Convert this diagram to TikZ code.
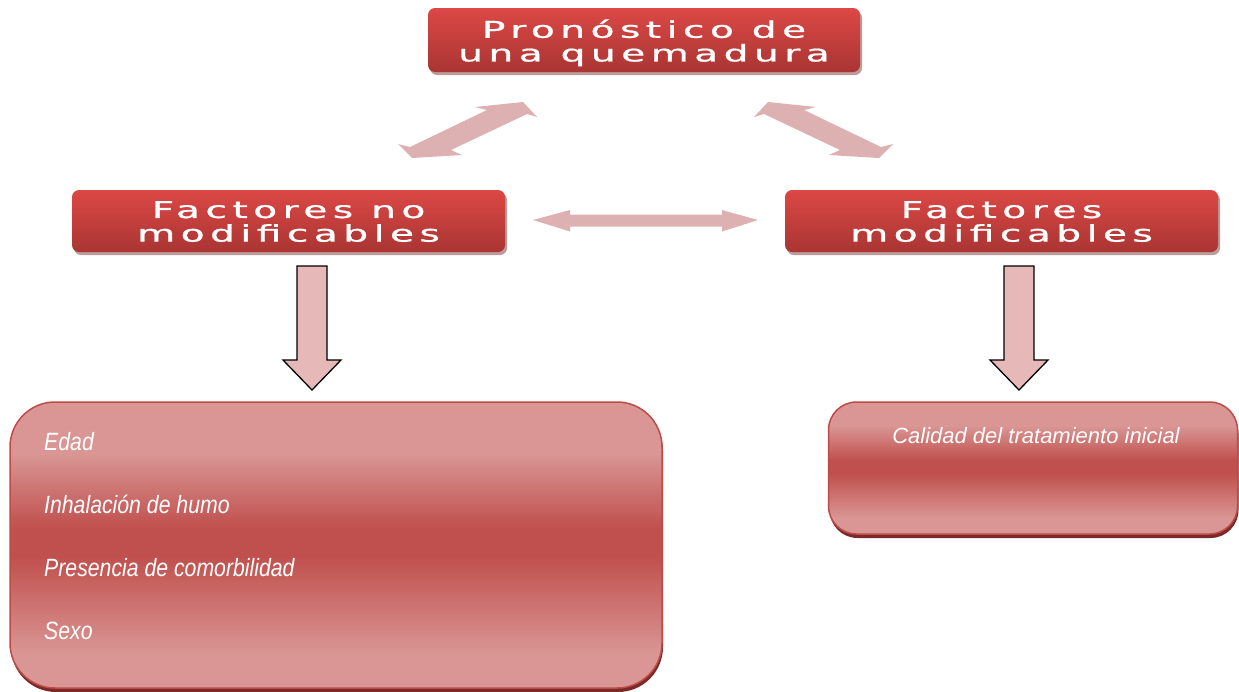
\documentclass[tikz,border=0pt]{standalone}
\usepackage{fontspec}
\setmainfont{Liberation Sans}
\newfontfamily\headfont[LetterSpace=14,FakeBold=0.8]{DejaVu Sans}
\newfontfamily\narrowfont[FakeStretch=0.85]{Liberation Sans}
\usetikzlibrary{calc,shadows}
\definecolor{headtop}{HTML}{DC4845}
\definecolor{headbot}{HTML}{A93533}
\definecolor{headshadow}{HTML}{6E2220}
\definecolor{arrowpink}{HTML}{DDB1B1}
\definecolor{downpink}{HTML}{E6B9B8}
\definecolor{boxlight}{HTML}{D99694}
\definecolor{boxdark}{HTML}{C0504D}
\definecolor{boxborder}{HTML}{BE4B48}
\definecolor{boxshadow}{HTML}{7B2A28}
\pgfdeclareverticalshading{boxshade}{100bp}{color(0bp)=(boxlight); color(31bp)=(boxlight); color(48bp)=(boxdark); color(53bp)=(boxdark); color(66bp)=(boxlight); color(100bp)=(boxlight)}
\newcommand{\headtxt}[2]{\raisebox{-4pt}[\height][\depth]{\scalebox{1.7}[1]{\begin{tabular}{@{}c@{}}#1\\[-1pt]#2\end{tabular}}}}
\tikzset{
  headbox/.style={rounded corners=7pt, top color=headtop, bottom color=headbot,
    text=white, align=center, inner sep=0pt,
    font=\headfont\fontsize{23}{24}\selectfont,
    drop shadow={shadow xshift=2pt, shadow yshift=-3pt, fill=headshadow, opacity=.45}},
  bigbox/.style={shading=boxshade, draw=boxborder, line width=1.5pt, inner sep=0pt,
    drop shadow={shadow xshift=1pt, shadow yshift=-4pt, fill=boxshadow, opacity=1}},
  listtext/.style={anchor=base west, inner sep=0pt, text=white,
    font=\narrowfont\itshape\fontsize{25}{25}\selectfont},
  righttext/.style={anchor=base, inner sep=0pt, text=white,
    font=\itshape\fontsize{22}{22}\selectfont},
  fatarrow/.style={fill=arrowpink, draw=none},
  downarr/.pic={\draw[fill=downpink, line width=1.3pt, line join=miter]
    (-15,0)--(15,0)--(15,94)--(29,94)--(0,124)--(-29,94)--(-15,94)--cycle;}
}
\begin{document}
\begin{tikzpicture}[x=1pt,y=-1pt]
\useasboundingbox[fill=white] (0,0) rectangle (1239,691);

% heading boxes
\node[headbox, minimum width=432pt, minimum height=64pt] (top) at (644,40) {\headtxt{Pronóstico de}{una quemadura}};
\node[headbox, minimum width=433pt, minimum height=62pt] (left) at (288.5,221) {\headtxt{Factores no}{modificables}};
\node[headbox, minimum width=433pt, minimum height=62pt] (right) at (1001.5,221) {\headtxt{Factores}{modificables}};

% fat double arrows
\fill[fatarrow] (398,144)--(412,158)--(462,155)--(451,150)--(527,114)--(537,117)--(523,102)--(475,107)--(487,110)--(410,147)--cycle;
\fill[fatarrow] (893,144)--(879,158)--(829,155)--(840,150)--(764,114)--(754,117)--(768,102)--(816,107)--(804,110)--(881,147)--cycle;
\fill[fatarrow] (533,220)--(570,210)--(570,214.5)--(722,214.5)--(722,210)--(758,220)--(722,231.5)--(722,226.5)--(570,226.5)--(570,231.5)--cycle;

% down arrows
\pic at (312,266) {downarr};
\pic at (1019,266) {downarr};

% content boxes
\node[bigbox, rounded corners=45pt, minimum width=652pt, minimum height=286pt] (nmbox) at (336,545) {};
\node[bigbox, rounded corners=28pt, minimum width=409pt, minimum height=132pt] (mbox) at (1033,468) {};

\node[listtext] (t1) at (44,450) {Edad};
\node[listtext] (t2) at (44,513) {Inhalación de humo};
\node[listtext] (t3) at (44,576) {Presencia de comorbilidad};
\node[listtext] (t4) at (44,639) {Sexo};

\node[righttext] (r1) at (1036,443) {Calidad del tratamiento inicial};
\end{tikzpicture}
\end{document}
